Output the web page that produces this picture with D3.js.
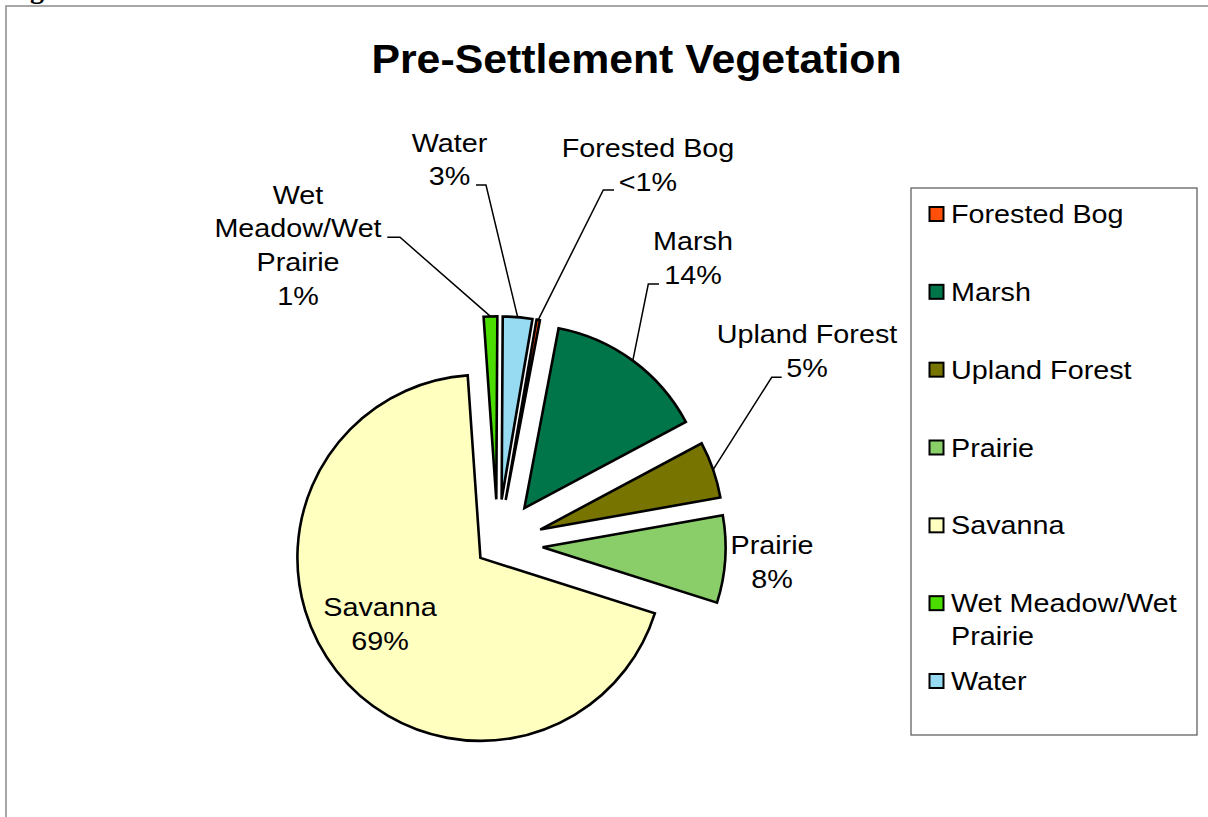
<!DOCTYPE html>
<html>
<head>
<meta charset="utf-8">
<script src="https://cdn.jsdelivr.net/npm/d3@7"></script>
<style>
  html, body { margin: 0; padding: 0; background: #fff; }
  svg { display: block; }
  text { font-family: "Liberation Sans", Arial, sans-serif; fill: #000; }
</style>
</head>
<body>
<svg id="chart" width="1208" height="817"></svg>
<script>
// Land cover shares (percent of area) before settlement
const categories = ["Forested Bog", "Marsh", "Upland Forest", "Prairie", "Savanna", "Wet Meadow/Wet Prairie", "Water"];
const shares = [0.3, 14.2, 5.0, 7.7, 69.0, 1.2, 2.6];
const sliceColors = ["#FF4F0A", "#007549", "#787400", "#8ACE6A", "#FFFFC0", "#4CDD00", "#97DBF2"];
// How each name is broken over lines in the slice labels and in the legend
const labelLines = [["Forested Bog"], ["Marsh"], ["Upland Forest"], ["Prairie"], ["Savanna"], ["Wet", "Meadow/Wet", "Prairie"], ["Water"]];
const legendLines = [["Forested Bog"], ["Marsh"], ["Upland Forest"], ["Prairie"], ["Savanna"], ["Wet Meadow/Wet", "Prairie"], ["Water"]];
const chartTitle = "Pre-Settlement Vegetation";

const pct = v => (v < 1 ? "<1%" : Math.round(v) + "%");

const svg = d3.select("#chart");
const FONT = 25, SX = 1.15, LINE = 34;

// outer frame of the chart area
svg.append("path")
  .attr("d", "M6,817V6H1208")
  .attr("fill", "none")
  .attr("stroke", "#8a8a8a")
  .attr("stroke-width", 1.5);

// caption of the document (only its descender reaches into view)
svg.append("text")
  .attr("x", 5).attr("y", -2)
  .style("font-family", "'Liberation Serif', 'Times New Roman', serif")
  .style("font-weight", "bold")
  .style("font-size", "28px")
  .text("Figure");

// title
svg.append("text")
  .attr("transform", "translate(636.5,72.5) scale(1.07,1)")
  .attr("text-anchor", "middle")
  .style("font-weight", "bold")
  .style("font-size", "40px")
  .text(chartTitle);

// ---- pie ----
const cx = 497.7, cy = 544.3, R = 183;
const startDeg = 9.7;
const data = categories.map((name, i) => ({ name, value: shares[i], color: sliceColors[i], lines: labelLines[i] }));

const pie = d3.pie().sort(null).value(d => d.value)
  .startAngle(startDeg * Math.PI / 180)
  .endAngle(startDeg * Math.PI / 180 + 2 * Math.PI);
const arcs = pie(data);

const arc = d3.arc().innerRadius(0).outerRadius(R);
const rimArc = d3.arc().innerRadius(R).outerRadius(R);
const explode = d => (d.data.name === "Savanna" ? 22 : 45);
const offset = d => {
  const a = (d.startAngle + d.endAngle) / 2;
  const e = explode(d);
  return [cx + e * Math.sin(a), cy - e * Math.cos(a)];
};

const slices = svg.append("g");
slices.selectAll("path")
  .data(arcs)
  .join("path")
  .attr("transform", d => `translate(${offset(d)})`)
  .attr("d", arc)
  .attr("fill", d => d.data.color)
  .attr("stroke", "#000")
  .attr("stroke-width", 2.6)
  .attr("stroke-linejoin", "miter");

// ---- data labels ----
// text block position (centre of first line) and the horizontal stub of the leader
const placement = {
  "Forested Bog": { x: 648, y: 148, stub: [614, 190, 603.3, 190] },
  "Marsh": { x: 693, y: 241, stub: [659, 284, 648.3, 284] },
  "Upland Forest": { x: 807, y: 334, stub: [781.7, 377.3, 771.7, 377.3] },
  "Prairie": { x: 772, y: 545, stub: null },
  "Savanna": { x: 380, y: 607, stub: null },
  "Wet Meadow/Wet Prairie": { x: 298, y: 194.5, stub: [387.3, 237.3, 400, 237.3] },
  "Water": { x: 449.5, y: 142.5, stub: [476, 185, 486, 185] }
};

const labels = svg.append("g");
arcs.forEach(d => {
  const p = placement[d.data.name];
  const lines = d.data.lines.concat([pct(d.data.value)]);
  const t = labels.append("text")
    .attr("transform", `translate(${p.x},${p.y + 9}) scale(${SX},1)`)
    .attr("text-anchor", "middle")
    .style("font-size", FONT + "px");
  lines.forEach((s, i) => {
    t.append("tspan").attr("x", 0).attr("dy", i === 0 ? 0 : LINE).text(s);
  });
  if (p.stub) {
    const [ox, oy] = offset(d);
    const [mx, my] = rimArc.centroid(d);
    const [x1, y1, x2, y2] = p.stub;
    labels.append("path")
      .attr("d", `M${x1},${y1}L${x2},${y2}L${ox + mx},${oy + my}`)
      .attr("fill", "none")
      .attr("stroke", "#000")
      .attr("stroke-width", 1.5);
  }
});

// ---- legend ----
const legend = svg.append("g");
legend.append("rect")
  .attr("x", 911).attr("y", 188)
  .attr("width", 286).attr("height", 547)
  .attr("fill", "#fff")
  .attr("stroke", "#555")
  .attr("stroke-width", 1.2);

const legendY = d3.scalePoint().domain(categories).range([214, 681]);
data.forEach((d, i) => {
  const y = legendY(d.name);
  legend.append("rect")
    .attr("x", 929.5).attr("y", y - 7)
    .attr("width", 14).attr("height", 14)
    .attr("fill", d.color)
    .attr("stroke", "#000")
    .attr("stroke-width", 2);
  const t = legend.append("text")
    .attr("transform", `translate(951,${y + 9}) scale(${SX},1)`)
    .style("font-size", FONT + "px");
  legendLines[i].forEach((s, k) => {
    t.append("tspan").attr("x", 0).attr("dy", k === 0 ? 0 : 33).text(s);
  });
});
</script>
</body>
</html>
